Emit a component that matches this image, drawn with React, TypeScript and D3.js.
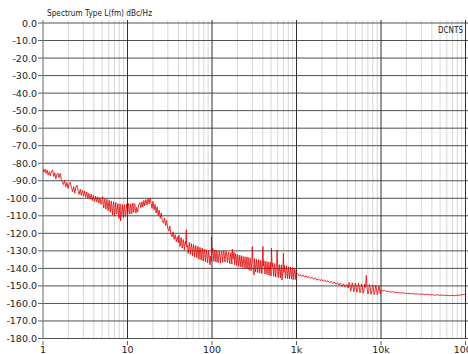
import React from 'react';
import * as d3 from 'd3';

type Pt = [number, number];

// phase noise trace: [offset Hz, dBc/Hz]
const decade1: Pt[] = [
  [1.0, -83.0], [1.03, -85.2], [1.06, -83.4], [1.09, -85.8], [1.12, -83.9], [1.15, -86.8],
  [1.19, -84.8], [1.22, -87.2], [1.26, -84.6], [1.3, -83.8], [1.34, -87.6], [1.38, -85.4],
  [1.42, -88.9], [1.46, -86.4], [1.5, -85.6], [1.55, -88.2], [1.6, -85.8], [1.65, -89.6],
  [1.7, -90.6], [1.75, -92.2], [1.8, -89.8], [1.86, -93.6], [1.92, -91.0], [1.98, -94.4],
  [2.04, -91.6], [2.1, -90.8], [2.17, -93.8], [2.24, -96.2], [2.31, -93.4], [2.38, -97.2],
  [2.45, -93.6], [2.52, -92.5], [2.6, -95.6], [2.68, -97.8], [2.76, -94.8], [2.84, -98.4],
  [2.93, -95.5], [3.02, -98.8], [3.11, -95.8], [3.2, -99.5], [3.3, -96.4], [3.4, -100.2],
  [3.5, -97.2], [3.61, -100.6], [3.72, -97.6], [3.83, -101.3], [3.95, -98.2], [4.07, -101.8],
  [4.19, -98.8], [4.32, -102.2], [4.45, -99.2], [4.58, -102.8], [4.72, -99.6], [4.86, -103.5],
  [5.01, -100.8], [5.16, -103.4], [5.32, -101.5], [5.48, -104.0], [5.64, -102.0], [5.81, -104.6],
  [5.99, -102.8], [6.17, -105.5], [6.36, -103.0], [6.55, -106.8], [6.75, -104.2], [6.95, -107.5],
  [7.16, -105.0], [7.38, -108.2], [7.6, -105.5], [7.83, -110.0], [8.06, -106.2], [8.3, -113.0],
  [8.55, -106.8], [8.81, -108.5], [9.08, -105.4], [9.35, -109.2], [9.63, -106.0], [9.92, -108.0],
];

// the dense red stretch around 5 to 13 Hz
const dense1: Pt[] = [
  [5.08, -99.0], [5.24, -105.6], [5.4, -100.2], [5.56, -106.2], [5.72, -100.6], [5.9, -107.0],
  [6.08, -101.2], [6.26, -108.0], [6.45, -101.6], [6.65, -109.5], [6.85, -102.0], [7.05, -110.2],
  [7.27, -102.4], [7.49, -109.0], [7.71, -103.0], [7.95, -111.5], [8.18, -103.2], [8.43, -109.8],
  [8.68, -103.5], [8.94, -111.0], [9.2, -103.6], [9.49, -110.5], [9.78, -103.2], [10.05, -109.6],
  [10.35, -103.0], [10.65, -109.0], [10.95, -103.2], [11.25, -108.8], [11.55, -102.8], [11.85, -108.0],
  [12.2, -103.0], [12.6, -108.5],
];

const decade2: Pt[] = [
  [10.2, -104.5], [10.5, -107.2], [10.8, -105.0], [11.1, -107.5], [11.4, -104.8], [11.7, -106.5],
  [12.0, -103.8], [12.4, -106.9], [12.8, -105.2], [13.2, -107.8], [13.6, -103.6], [14.0, -102.4],
  [14.4, -105.4], [14.8, -102.0], [15.2, -105.0], [15.6, -101.2], [16.0, -104.4], [16.5, -100.8],
  [17.0, -103.8], [17.5, -100.2], [18.0, -103.2], [18.5, -99.8], [19.0, -102.6], [19.5, -105.8],
  [20.0, -101.8], [20.6, -106.6], [21.2, -103.4], [21.8, -108.4], [22.4, -104.8], [23.0, -109.8],
  [23.7, -106.8], [24.4, -111.4], [25.1, -108.4], [25.8, -112.8], [26.6, -114.2], [27.4, -111.2],
  [28.2, -115.6], [29.0, -112.6], [29.9, -117.0], [30.8, -118.6], [31.7, -115.8], [32.6, -120.4],
  [33.6, -122.0], [34.6, -119.2], [35.6, -123.4], [36.7, -120.8], [37.8, -124.8], [38.9, -122.0],
  [40.0, -125.2], [41.2, -124.5], [42.4, -126.0], [43.7, -125.0], [45.0, -126.8], [46.3, -125.7],
  [47.6, -127.3], [49.0, -126.4], [49.6, -118.0], [50.2, -127.8], [51.5, -126.9], [53.0, -128.6],
  [54.6, -127.5], [56.2, -129.2], [57.9, -128.0], [59.6, -129.8], [61.4, -128.6], [63.2, -130.4],
  [65.1, -129.3], [67.0, -131.0], [69.0, -129.8], [71.0, -131.6], [73.1, -130.2], [75.3, -132.2],
  [77.5, -130.8], [79.8, -132.9], [82.2, -131.2], [84.6, -133.6], [87.1, -131.8], [89.7, -134.2],
  [92.3, -132.0], [95.0, -138.0], [96.5, -133.0], [98.0, -136.0], [98.5, -122.0], [99.5, -131.5],
];

// dense red stretch, 40 to 100 Hz
const dense2: Pt[] = [
  [40.6, -121.0], [41.8, -127.5], [43.0, -122.4], [44.3, -128.4], [45.6, -123.5], [47.0, -129.6],
  [48.3, -124.6], [52.2, -131.5], [53.8, -125.2], [55.4, -132.0], [57.0, -125.8], [58.7, -132.8],
  [60.5, -126.4], [62.3, -133.6], [64.1, -127.0], [66.0, -134.0], [68.0, -127.5], [70.0, -134.8],
  [72.0, -128.0], [74.2, -135.2], [76.4, -128.4], [78.6, -135.8], [81.0, -129.0], [83.4, -136.2],
  [85.8, -129.4], [88.4, -136.8], [91.0, -129.8], [93.6, -137.2],
];

const decade3: Pt[] = [
  [101, -130.5], [104, -133.5], [107, -131.8], [110, -134.0], [113, -132.0], [116, -134.5],
  [120, -132.3], [124, -133.8], [128, -131.6], [132, -133.2], [136, -130.9], [140, -132.6],
  [145, -131.2], [150, -133.5], [155, -132.0], [160, -134.4], [165, -133.0], [170, -135.0],
  [174, -129.0], [178, -134.6], [183, -130.8], [188, -135.5], [193, -133.4], [198, -135.8],
  [204, -134.0], [210, -136.2], [216, -134.5], [222, -136.8], [228, -135.0], [235, -137.2],
  [242, -135.6], [249, -137.5], [256, -135.8], [263, -137.8], [270, -136.0], [278, -138.2],
  [286, -136.4], [294, -138.6], [300, -127.6], [306, -137.0], [315, -143.8], [324, -137.4],
  [333, -139.0], [342, -136.8], [352, -139.2], [362, -137.2], [372, -139.6], [383, -137.5],
  [394, -139.8], [400, -127.6], [406, -138.6], [418, -140.2], [430, -137.8], [442, -140.6],
  [455, -138.4], [468, -141.0], [481, -138.8], [495, -141.2], [505, -128.5], [515, -139.2],
  [530, -141.6], [545, -139.4], [560, -141.8], [576, -139.6], [590, -129.5], [600, -141.9],
  [617, -140.0], [635, -142.2], [653, -140.4], [672, -146.6], [690, -140.8], [700, -131.4],
  [710, -142.2], [730, -140.6], [751, -142.6], [772, -140.9], [794, -143.0], [817, -141.2],
  [840, -143.2], [864, -141.4], [889, -143.4], [914, -141.6], [940, -143.5], [967, -142.0],
  [995, -143.6],
];

// dense red stretch, 100 Hz to 1 kHz
const dense3: Pt[] = [
  [102.5, -128.6], [105.5, -136.0], [108.5, -129.4], [111.5, -136.4], [114.5, -129.8], [118, -136.8],
  [122, -130.0], [126, -137.0], [130, -130.2], [134, -136.6], [138, -129.8], [142.5, -136.4],
  [147.5, -130.2], [152.5, -136.8], [157.5, -130.6], [162.5, -137.4], [167.5, -131.0], [172, -137.6],
  [180.5, -131.4], [185.5, -138.0], [190.5, -131.6], [195.5, -138.4], [201, -132.0], [207, -139.0],
  [213, -132.4], [219, -139.2], [225, -132.8], [231.5, -139.6], [238.5, -133.2], [245.5, -140.0],
  [252.5, -133.4], [259.5, -140.4], [266.5, -133.6], [274, -141.0], [282, -134.0], [290, -141.4],
  [297, -134.2], [310, -141.6], [319, -134.4], [328, -142.0], [337, -134.8], [347, -142.4],
  [357, -135.0], [367, -142.6], [377.5, -135.4], [388.5, -143.0], [412, -135.6], [424, -143.2],
  [436, -136.0], [448.5, -143.6], [461.5, -136.2], [474.5, -144.0], [488, -136.4], [500, -144.4],
  [522.5, -137.0], [537.5, -144.6], [552.5, -137.2], [568, -145.0], [583, -137.4], [608.5, -145.2],
  [626, -137.8], [644, -145.4], [662.5, -138.0], [681, -145.0], [720, -138.4], [740.5, -145.6],
  [761.5, -138.6], [783, -145.8], [805.5, -139.0], [828.5, -146.0], [852, -139.2], [876.5, -146.2],
  [901.5, -139.6], [927, -146.4], [953.5, -140.0], [981, -146.4],
];

const decade4: Pt[] = [
  [1030, -143.0], [1070, -144.2], [1110, -143.4], [1150, -144.6], [1200, -143.8], [1250, -145.0],
  [1300, -144.2], [1350, -145.3], [1410, -144.6], [1470, -145.8], [1530, -145.0], [1600, -146.3],
  [1670, -145.4], [1740, -146.7], [1820, -146.0], [1900, -147.0], [1980, -146.3], [2070, -147.4],
  [2160, -146.6], [2260, -147.8], [2360, -147.0], [2460, -148.2], [2570, -147.3], [2680, -148.6],
  [2800, -147.8], [2920, -149.0], [3050, -148.2], [3180, -149.6], [3320, -148.4], [3460, -150.4],
  [3610, -148.8], [3770, -150.8], [3930, -149.2], [4100, -151.2], [4280, -149.4], [4470, -151.6],
  [4660, -149.6], [4860, -152.0], [5070, -150.0], [5290, -152.2], [5520, -150.2], [5760, -152.6],
  [6010, -150.6], [6270, -152.8], [6550, -150.8], [6700, -144.0], [6850, -151.4], [7150, -153.2],
  [7460, -151.0], [7780, -153.4], [8120, -151.2], [8470, -153.6], [8840, -151.4], [9220, -153.8],
  [9620, -151.6], [10000, -152.4],
];

// dense red stretch, 4 to 10 kHz
const dense4: Pt[] = [
  [4190, -148.0], [4370, -153.0], [4560, -148.2], [4760, -153.4], [4960, -148.4], [5180, -153.6],
  [5400, -148.6], [5640, -154.0], [5880, -148.8], [6140, -154.2], [6410, -149.0], [7000, -154.6],
  [7300, -149.2], [7620, -154.8], [7950, -149.4], [8290, -155.0], [8650, -149.6], [9030, -155.0],
  [9420, -149.8], [9810, -154.6],
];

const decade5: Pt[] = [
  [10500, -152.8], [11000, -152.6], [11600, -153.2], [12200, -153.0], [12900, -153.5], [13600, -153.3],
  [14400, -153.7], [15300, -153.6], [16200, -153.9], [17200, -154.1], [18300, -153.9], [19500, -154.3],
  [20800, -154.2], [22200, -154.5], [23700, -154.3], [25300, -154.7], [27000, -154.5], [28900, -154.8],
  [30900, -154.6], [33000, -155.0], [35300, -154.7], [37800, -155.1], [40400, -155.0], [43200, -155.3],
  [46200, -155.0], [49400, -155.4], [52800, -155.2], [56500, -155.5], [60400, -155.3], [64600, -155.6],
  [69100, -155.4], [73900, -155.6], [79000, -155.3], [84500, -155.4], [90400, -155.0], [96700, -154.9],
  [100000, -154.8],
];

const trace: Pt[] = [
  ...decade1, ...dense1, ...decade2, ...dense2, ...decade3, ...dense3, ...decade4, ...dense4, ...decade5,
].sort((a, b) => a[0] - b[0]);

const yTicks = [0, -10, -20, -30, -40, -50, -60, -70, -80, -90, -100, -110, -120, -130, -140, -150, -160, -170, -180];
const xTicks = [1, 10, 100, 1000, 10000, 100000];
const xTickLabels = ['1', '10', '100', '1k', '10k', '100k'];

const W = 468;
const H = 354;
const font = '"DejaVu Sans", Verdana, sans-serif';

export default function App() {
  const x = d3.scaleLog().domain([1, 100000]).range([43, 465.5]);
  const y = d3.scaleLinear().domain([-180, 0]).range([338.5, 23]);
  const top = y(1.7);
  const bottom = y(-180);

  const minor: number[] = [];
  for (let d = 1; d < 100000; d *= 10) {
    for (let k = 2; k <= 9; k++) minor.push(d * k);
  }

  const line = d3
    .line<Pt>()
    .x((d) => x(d[0]))
    .y((d) => y(d[1]));

  return (
    <svg
      width={W}
      height={H}
      style={{ position: 'absolute', left: 0, top: 0, background: '#fff' }}
      fontFamily={font}
    >
      <defs>
        <clipPath id="plot">
          <rect x={x(1)} y={top} width={x(100000) - x(1) + 1} height={bottom - top} />
        </clipPath>
      </defs>

      {/* minor vertical grid */}
      {minor.map((f) => (
        <line key={'m' + f} x1={x(f)} x2={x(f)} y1={top} y2={bottom} stroke="#d8d8d8" strokeWidth={1} />
      ))}

      {/* horizontal grid */}
      {yTicks.map((v) => (
        <line key={'h' + v} x1={x(1)} x2={W} y1={y(v)} y2={y(v)} stroke="#505050" strokeWidth={1} />
      ))}

      {/* decade lines */}
      {xTicks.slice(1).map((f) => (
        <line key={'d' + f} x1={x(f)} x2={x(f)} y1={top} y2={bottom} stroke="#303030" strokeWidth={1} />
      ))}

      {/* left axis */}
      <line x1={x(1)} x2={x(1)} y1={top} y2={bottom} stroke="#808080" strokeWidth={1.2} />

      <path d={line(trace) || ''} fill="none" stroke="#e00000" strokeWidth={0.8} clipPath="url(#plot)" />

      {/* y ticks */}
      {yTicks.map((v) => (
        <g key={'yt' + v}>
          <line x1={38} x2={43} y1={y(v)} y2={y(v)} stroke="#606060" />
          <text x={37} y={y(v) + 3.5} textAnchor="end" fontSize={9.5} fill="#222">
            {v.toFixed(1)}
          </text>
        </g>
      ))}

      {/* x ticks */}
      {xTicks.map((f, i) => (
        <g key={'xt' + f}>
          <line x1={x(f)} x2={x(f)} y1={bottom + 2.5} y2={bottom + 6.5} stroke="#606060" />
          <text x={x(f)} y={352.5} textAnchor="middle" fontSize={9.5} fill="#222">
            {xTickLabels[i]}
          </text>
        </g>
      ))}

      <text x={47} y={16} fontSize={8.5} fill="#222" textLength={105} lengthAdjust="spacingAndGlyphs">
        Spectrum Type  L(fm) dBc/Hz
      </text>
      <text x={463} y={32.5} textAnchor="end" fontSize={8.5} fill="#222" textLength={25} lengthAdjust="spacingAndGlyphs">
        DCNTS
      </text>
    </svg>
  );
}
